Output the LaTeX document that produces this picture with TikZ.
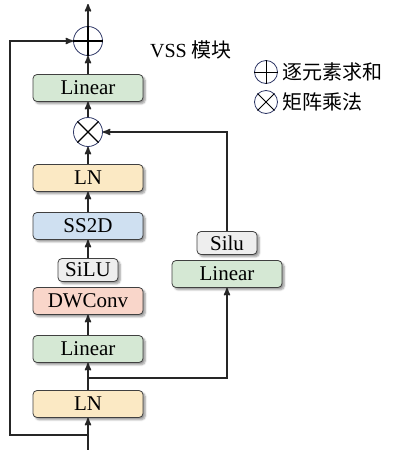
\documentclass[tikz,border=0pt]{standalone}
\usepackage{fontspec}
\setmainfont{Liberation Serif}
\newfontfamily\cjk{Noto Sans CJK SC}
\usetikzlibrary{arrows,shadows,shadows.blur}
\definecolor{linegreen}{HTML}{D5E8D4}
\definecolor{lnyellow}{HTML}{FBE9C4}
\definecolor{ssblue}{HTML}{CFE0F1}
\definecolor{convpink}{HTML}{F9D6CA}
\definecolor{actgray}{HTML}{EEEEEE}
\definecolor{navy}{HTML}{2E3766}
\tikzset{
    %Define standard arrow tip
    >=stealth',
    % Define style for boxes
    block/.style={
           rectangle,
           rounded corners=4pt,
           draw=black!75, thick,
           fill=#1,
           minimum width=110pt,
           minimum height=27pt,
           inner sep=0pt,
           font=\fontsize{21}{21}\selectfont,
           blur shadow={shadow blur steps=5}},
    actbox/.style={block=actgray, minimum width=60pt, minimum height=23pt},
    % Define operator circles
    opcircle/.style={circle, draw=navy, thick, minimum size=29pt, inner sep=0pt},
    % Define arrow style
    pil/.style={
           ->,
           line width=1.6pt,
           draw=black!85},
    legendtxt/.style={right=4pt, inner sep=0pt, font=\fontsize{20}{20}\selectfont\cjk}
}

\begin{document}
\begin{tikzpicture}[x=1pt,y=-1pt]
  \useasboundingbox (0,0) rectangle (393,450);
  % main column
  \node[block=lnyellow ] (lnA) at (88,404) {LN};
  \node[block=linegreen] (linA) at (88,349) {Linear};
  \node[block=convpink ] (dwconv) at (88,301) {DWConv};
  \node[actbox] (siluA) at (88,270) {SiLU};
  \node[block=ssblue   ] (ss2d) at (88,226) {SS2D};
  \node[block=lnyellow ] (lnB) at (88,178) {LN};
  \node[opcircle] (mul) at (88,132) {};
  \node[block=linegreen] (linB) at (88,88) {Linear};
  \node[opcircle] (add) at (88,41) {};
  % gate branch
  \node[block=linegreen] (linG) at (227,274) {Linear};
  \node[actbox] (siluG) at (227,243) {Silu};
  % operator marks
  \draw[line width=1.1pt] (add.north) -- (add.south) (add.west) -- (add.east);
  \draw[line width=1.1pt] (mul.north west) -- (mul.south east) (mul.north east) -- (mul.south west);
  % title and legend
  \node[font=\fontsize{20}{20}\selectfont] (title) at (191,50) {VSS {\cjk 模块}};
  \node[opcircle, minimum size=23pt] (lgadd) at (266,72) {};
  \draw[line width=1pt] (lgadd.north) -- (lgadd.south) (lgadd.west) -- (lgadd.east);
  \node[opcircle, minimum size=23pt] (lgmul) at (266,102) {};
  \draw[line width=1pt] (lgmul.north west) -- (lgmul.south east) (lgmul.north east) -- (lgmul.south west);
  \node[legendtxt] (lgaddtxt) at (lgadd.east) {逐元素求和};
  \node[legendtxt] (lgmultxt) at (lgmul.east) {矩阵乘法};
  % junctions and ends
  \coordinate (in) at (88,450);
  \coordinate (out) at (88,4);
  \coordinate (skip) at (88,435);
  \coordinate (split) at (88,378);
  % connectors
  \draw[pil] (in) -- (lnA);
  \draw[pil] (lnA) -- (linA);
  \draw[pil] (linA) -- (dwconv);
  \draw[pil] (siluA) -- (ss2d);
  \draw[pil] (ss2d) -- (lnB);
  \draw[pil] (lnB) -- (mul);
  \draw[pil] (mul) -- (linB);
  \draw[pil] (linB) -- (add);
  \draw[pil] (add) -- (out);
  \draw[pil] (skip) -| (10,41) -- (add.west);
  \draw[pil] (split) -| (linG.south);
  \draw[pil] (siluG.north) |- (mul.east);
\end{tikzpicture}
\end{document}
